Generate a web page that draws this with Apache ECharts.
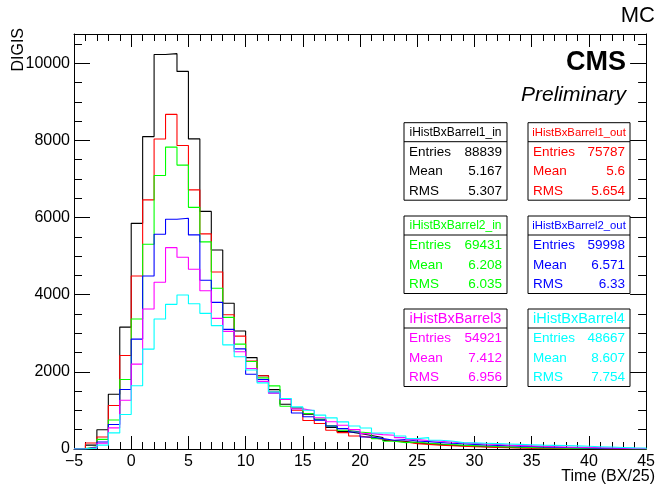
<!DOCTYPE html>
<html>
<head>
<meta charset="utf-8">
<script src="https://cdn.jsdelivr.net/npm/echarts@6/dist/echarts.min.js"></script>
<style>
html,body{margin:0;padding:0;background:#fff;}
#chart{width:658px;height:486px;}
</style>
</head>
<body>
<div id="chart"></div>
<script>
// ---------- DATA ----------
// lower edges of the 50 bins (width 1) from -5 to 45
const binLow = [-5,-4,-3,-2,-1,0,1,2,3,4,5,6,7,8,9,10,11,12,13,14,15,16,17,18,19,20,21,22,23,24,25,26,27,28,29,30,31,32,33,34,35,36,37,38,39,40,41,42,43,44];
const binWidth = 1;

const barrel1In  = [10,100,500,1420,3160,5850,8100,10230,10250,9790,8040,6160,5160,3780,3060,2370,1900,1540,1160,1060,900,760,560,450,400,350,300,220,190,160,140,120,100,85,70,60,50,40,35,30,25,20,15,12,10,8,6,5,4,3];
const barrel1Out = [20,156,312,1127,2426,4486,6459,8036,8675,7870,6719,5577,4590,3480,2927,2280,1900,1481,1283,1005,740,662,486,425,338,295,251,208,182,139,120,100,85,70,60,50,40,32,25,20,16,12,10,8,6,5,4,3,2,2];
const barrel2In  = [10,60,250,750,1802,3369,5309,7091,7828,7361,6265,5371,4166,3413,2719,2270,1844,1636,1109,1049,921,775,600,486,442,416,269,199,165,182,150,130,115,100,88,76,65,55,46,38,30,24,19,15,12,9,7,5,4,3];
const barrel2Out = [5,40,180,634,1543,2850,4486,5568,5958,5984,5551,4374,3802,3101,2595,1940,1802,1455,1291,935,835,749,598,529,442,312,269,226,243,208,190,170,150,135,120,105,95,85,75,65,55,48,40,34,28,22,18,14,10,8];
const barrel3    = [5,30,150,548,1265,2200,3628,4322,5221,4971,4659,4104,3387,3050,2520,2088,1753,1455,1283,1040,990,809,706,615,503,399,373,355,295,243,220,200,180,160,145,130,115,100,90,80,70,60,52,45,38,32,26,20,16,12];
const barrel4    = [3,20,100,418,893,1640,2590,3369,3750,3992,3766,3517,3200,2700,2390,2050,1714,1481,1309,1091,1005,878,806,702,598,546,416,416,338,269,295,226,208,165,160,150,140,130,120,110,100,95,90,80,70,60,50,40,30,25];

const seriesNames  = ['iHistBxBarrel1_in','iHistBxBarrel1_out','iHistBxBarrel2_in','iHistBxBarrel2_out','iHistBxBarrel3','iHistBxBarrel4'];
const seriesValues = [barrel1In, barrel1Out, barrel2In, barrel2Out, barrel3, barrel4];
const statEntries  = ['88839','75787','69431','59998','54921','48667'];
const statMean     = ['5.167','5.6','6.208','6.571','7.412','8.607'];
const statRMS      = ['5.307','5.654','6.035','6.33','6.956','7.754'];
const statLabels   = ['Entries','Mean','RMS'];

const xTitle = 'Time (BX/25)';
const yTitle = 'DIGIS';

// ---------- STYLE ----------
const colors = ['#000000','#ff0000','#00ff00','#0000ff','#ff00ff','#00ffff'];
const FONT = '"Liberation Sans", Arial, Helvetica, sans-serif';

function histData(vals){
  const d = [[binLow[0], 0]];
  vals.forEach((v,i)=>d.push([binLow[i], v]));
  const last = binLow[binLow.length-1] + binWidth;
  d.push([last, vals[vals.length-1]]);
  d.push([last, 0]);
  return d;
}

const series = seriesValues.map((vals,i)=>({
  name: seriesNames[i],
  type: 'line',
  step: 'end',
  data: histData(vals),
  symbol: 'none',
  silent: true,
  lineStyle: {color: colors[i], width: 1.1},
  xAxisIndex: 0, yAxisIndex: 0,
  z: 2 + i
}));

// ---------- STAT BOXES ----------
const boxLefts = [404, 528];
const boxWidths = [103, 102];
const boxTops = [122.7, 216, 309];
const boxH = 77.5;
const titleSizes = [12, 11.3, 12, 11.3, 14.5, 14.5];
const graphics = [];
for (let k = 0; k < 6; k++){
  const col = k % 2, row = Math.floor(k/2);
  const x = boxLefts[col], y = boxTops[row], w = boxWidths[col];
  const c = colors[k];
  graphics.push({type:'rect', shape:{x:x, y:y, width:w, height:boxH}, style:{fill:'#fff', stroke:'#000', lineWidth:1}, z:10});
  graphics.push({type:'line', shape:{x1:x, y1:y+19, x2:x+w, y2:y+19}, style:{stroke:'#000', lineWidth:1}, z:11});
  graphics.push({type:'text', x:x+w/2, y:y+10, style:{text:seriesNames[k], fill:c, font:`${titleSizes[k]}px ${FONT}`, textAlign:'center', textVerticalAlign:'middle'}, z:12});
  const vals = [statEntries[k], statMean[k], statRMS[k]];
  const offs = [29.5, 49, 68.3];
  for (let r = 0; r < 3; r++){
    graphics.push({type:'text', x:x+5, y:y+offs[r], style:{text:statLabels[r], fill:c, font:`13.5px ${FONT}`, textAlign:'left', textVerticalAlign:'middle'}, z:12});
    graphics.push({type:'text', x:x+w-5, y:y+offs[r], style:{text:vals[r], fill:c, font:`13.5px ${FONT}`, textAlign:'right', textVerticalAlign:'middle'}, z:12});
  }
}
graphics.push({type:'text', x:655, y:16, style:{text:'MC', fill:'#000', font:`22px ${FONT}`, textAlign:'right', textVerticalAlign:'middle'}, z:12});
graphics.push({type:'text', x:626, y:63, style:{text:'CMS', fill:'#000', font:`bold 27px ${FONT}`, textAlign:'right', textVerticalAlign:'middle'}, z:12});
graphics.push({type:'text', x:626, y:95, style:{text:'Preliminary', fill:'#000', font:`italic 21px ${FONT}`, textAlign:'right', textVerticalAlign:'middle'}, z:12});
graphics.push({type:'text', x:655, y:477, style:{text:xTitle, fill:'#000', font:`16px ${FONT}`, textAlign:'right', textVerticalAlign:'middle'}, z:12});
graphics.push({type:'text', x:19, y:28, rotation:Math.PI/2, style:{text:yTitle, fill:'#000', font:`16px ${FONT}`, textAlign:'right', textVerticalAlign:'middle'}, z:12});

const minus = v => String(v).replace('-', '\u2212');
const plain = v => String(v);

const axisCommonX = {
  type:'value', min:-5, max:45, interval:5,
  axisLine:{show:true, onZero:false, lineStyle:{color:'#000', width:1}},
  axisTick:{show:true, inside:true, length:13, lineStyle:{color:'#000', width:1}},
  minorTick:{show:true, splitNumber:5, length:7, lineStyle:{color:'#000', width:1}},
  splitLine:{show:false}, minorSplitLine:{show:false}
};
const axisCommonY = {
  type:'value', min:0, max:10760, interval:2000,
  axisLine:{show:true, onZero:false, lineStyle:{color:'#000', width:1}},
  axisTick:{show:true, inside:true, length:16, lineStyle:{color:'#000', width:1}},
  minorTick:{show:true, splitNumber:4, length:8, lineStyle:{color:'#000', width:1}},
  splitLine:{show:false}, minorSplitLine:{show:false}
};

const chart = echarts.init(document.getElementById('chart'), null, {renderer:'canvas'});
chart.setOption({
  animation:false,
  backgroundColor:'#fff',
  grid:{left:74, right:8, top:34, bottom:37, containLabel:false},
  xAxis:[
    Object.assign({}, axisCommonX, {position:'bottom',
      axisLabel:{show:true, color:'#000', fontFamily:FONT, fontSize:16, margin:5, formatter:minus, showMinLabel:true, showMaxLabel:true}}),
    Object.assign({}, axisCommonX, {position:'top', axisLabel:{show:false}})
  ],
  yAxis:[
    Object.assign({}, axisCommonY, {position:'left',
      axisLabel:{show:true, color:'#000', fontFamily:FONT, fontSize:16, margin:4, showMaxLabel:false, formatter:plain}}),
    Object.assign({}, axisCommonY, {position:'right', axisLabel:{show:false}})
  ],
  series: series,
  graphic: graphics
});
</script>
</body>
</html>
